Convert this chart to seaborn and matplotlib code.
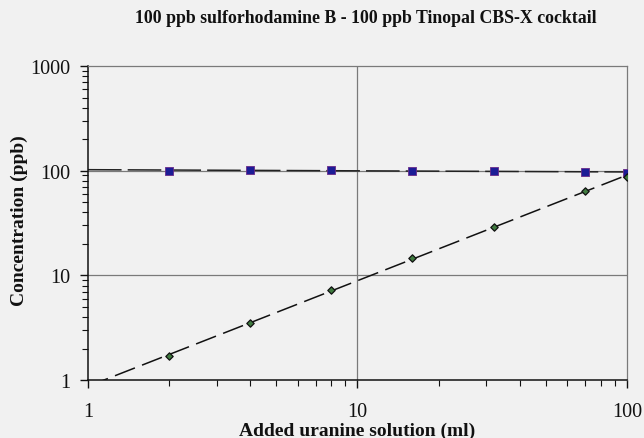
import numpy as np
import pandas as pd
import seaborn as sns
import matplotlib.pyplot as plt
from matplotlib.ticker import LogLocator, NullFormatter, FixedFormatter, FixedLocator

# added uranine solution (ml)
added_ml = [2, 4, 8, 16, 32, 70, 100]
# sulforhodamine B / tinopal reading (ppb)
sulfo_ppb = [100, 100.5, 101, 100, 100, 98, 95]
# uranine reading (ppb)
uranine_ppb = [1.7, 3.5, 7.3, 14.8, 29.0, 64.0, 87.0]

x_ticks = [1, 10, 100]
y_ticks = [1, 10, 100, 1000]

df = pd.DataFrame({"ml": added_ml, "sulfo": sulfo_ppb, "uranine": uranine_ppb})

# power law trend lines (fit in log space)
xfit = np.array([1.0, 100.0])
b1, a1 = np.polyfit(np.log10(df["ml"]), np.log10(df["uranine"]), 1)
b2, a2 = np.polyfit(np.log10(df["ml"]), np.log10(df["sulfo"]), 1)
fit = pd.DataFrame({"x": xfit,
                    "ur": 10 ** (a1 + b1 * np.log10(xfit)),
                    "su": 10 ** (a2 + b2 * np.log10(xfit))})

sns.set_theme(style="ticks")
plt.rcParams['font.family'] = ['Liberation Serif', 'DejaVu Serif']
bg = "#f1f1f1"

fig = plt.figure(figsize=(6.44, 4.39), dpi=100, facecolor=bg)
ax = fig.add_axes([0.1366, 0.132, 0.837, 0.7154])
ax.set_facecolor(bg)
ax.set_xscale("log")
ax.set_yscale("log")
ax.set_xlim(1, 100)
ax.set_ylim(1, 1000)

for v in [10, 100]:
    ax.axhline(v, color="#7a7a7a", lw=0.9, zorder=1)
ax.axvline(10, color="#7a7a7a", lw=0.9, zorder=1)

sns.lineplot(data=fit, x="x", y="su", ax=ax, color="#222222", lw=1.1, zorder=2)
sns.lineplot(data=fit, x="x", y="ur", ax=ax, color="#111111", lw=1.1, zorder=2)
ax.lines[-1].set_dashes((14, 5))
ax.lines[-2].set_dashes((22, 4))

sns.scatterplot(data=df, x="ml", y="sulfo", ax=ax, marker="s", s=26,
                color="#1c1c96", edgecolor="#6a2b8a", linewidth=0.6, zorder=3)
sns.scatterplot(data=df, x="ml", y="uranine", ax=ax, marker="D", s=14,
                color="#3f7a3f", edgecolor="#111111", linewidth=0.9, zorder=3)

ax.xaxis.set_major_locator(FixedLocator(x_ticks))
ax.xaxis.set_major_formatter(FixedFormatter([str(t) for t in x_ticks]))
ax.yaxis.set_major_locator(FixedLocator(y_ticks))
ax.yaxis.set_major_formatter(FixedFormatter([str(t) for t in y_ticks]))
ax.xaxis.set_minor_locator(LogLocator(base=10, subs=np.arange(2, 10)))
ax.yaxis.set_minor_locator(LogLocator(base=10, subs=np.arange(2, 10)))
ax.xaxis.set_minor_formatter(NullFormatter())
ax.yaxis.set_minor_formatter(NullFormatter())

ax.tick_params(axis="both", which="major", direction="out", length=6,
               width=1, color="#111111", labelsize=14.5, labelcolor="#111111")
ax.tick_params(axis="both", which="minor", direction="out", length=4,
               width=0.8, color="#111111")
ax.tick_params(axis="x", which="major", pad=10)
ax.tick_params(axis="y", which="major", pad=7)

for s in ["left", "bottom"]:
    ax.spines[s].set_color("#111111")
    ax.spines[s].set_linewidth(1.1)
for s in ["top", "right"]:
    ax.spines[s].set_visible(True)
    ax.spines[s].set_color("#7a7a7a")
    ax.spines[s].set_linewidth(0.9)

ax.set_xlabel("Added uranine solution (ml)", fontsize=14, fontweight="bold",
              color="#111111", labelpad=0)
ax.set_ylabel("Concentration (ppb)", fontsize=14, fontweight="bold",
              color="#111111")
ax.yaxis.set_label_coords(-0.112, 0.51)
ax.set_title("100 ppb sulforhodamine B - 100 ppb Tinopal CBS-X cocktail",
             fontsize=12.8, fontweight="bold", color="#111111", pad=32, x=0.515)
if ax.get_legend():
    ax.get_legend().remove()

fig.savefig("out.png", dpi=100, facecolor=bg)
